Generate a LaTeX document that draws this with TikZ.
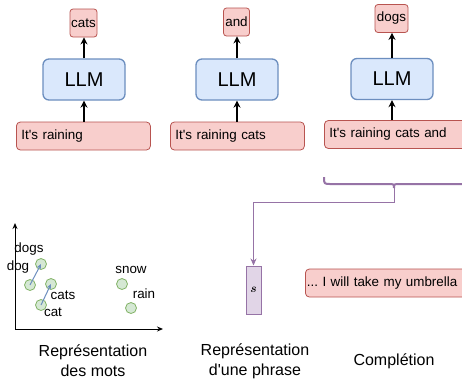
\documentclass[tikz,border=0pt]{standalone}
\usepackage{bm}
\usepackage{fontspec}
\setmainfont{Liberation Sans}
\usetikzlibrary{arrows.meta}
\frenchspacing
\definecolor{rfill}{HTML}{F8CECC}
\definecolor{rdraw}{HTML}{B85450}
\definecolor{bfill}{HTML}{DAE8FC}
\definecolor{bdraw}{HTML}{6C8EBF}
\definecolor{gfill}{HTML}{D5E8D4}
\definecolor{gdraw}{HTML}{82B366}
\definecolor{pfill}{HTML}{E1D5E7}
\definecolor{pdraw}{HTML}{9673A6}
\newcommand{\sq}{\textquotesingle}
\tikzset{
  txt/.style={font=\fontsize{13.4bp}{16bp}\selectfont},
  inbox/.style={txt, draw=rdraw, fill=rfill, rounded corners=4bp, line width=0.8bp,
    inner xsep=5bp, inner ysep=0pt, minimum height=28bp, text width=#1, align=left, anchor=west},
  outbox/.style={txt, draw=rdraw, fill=rfill, rounded corners=3bp, line width=0.8bp,
    inner sep=0pt, minimum height=28bp, minimum width=#1},
  llm/.style={draw=bdraw, fill=bfill, rounded corners=6bp, line width=1.3bp,
    minimum width=82bp, minimum height=41bp, inner sep=0pt, font=\fontsize{20bp}{24bp}\selectfont},
  flow/.style={-{Stealth[length=7bp,width=7bp]}, line width=1.8bp, black},
  ptcirc/.style={circle, draw=gdraw, fill=gfill, line width=0.8bp, minimum size=11bp, inner sep=0pt},
  ptlab/.style={txt, inner sep=0pt},
  vecarrow/.style={-{Stealth[length=5bp,width=4.5bp]}, line width=1bp, bdraw},
  axisarrow/.style={-{Stealth[length=6bp,width=5bp]}, line width=1bp, black},
  captext/.style={font=\fontsize{16bp}{20bp}\selectfont, align=center, inner sep=0pt},
  vecbox/.style={draw=pdraw, fill=pfill, line width=1bp, minimum width=15bp, minimum height=48bp,
    inner sep=0pt, font=\fontsize{13bp}{15bp}\selectfont},
}
\begin{document}
\begin{tikzpicture}[x=1bp,y=-1bp]
\useasboundingbox (0,0) rectangle (462,379);
\clip (0,0) rectangle (462,379);
\fill[white] (0,0) rectangle (462,379);

% column 1
\node[inbox=124bp] (in1) at (16,136) {It\sq s raining};
\node[llm] (llm1) at (84,79.5) {LLM};
\node[outbox=27bp] (out1) at (83.5,23) {cats};
\draw[flow] (in1.north -| llm1) -- (llm1.south);
\draw[flow] (llm1.north) -- (out1.south -| llm1);

% column 2
\node[inbox=124bp] (in2) at (170,136) {It\sq s raining cats};
\node[llm] (llm2) at (237,79.5) {LLM};
\node[outbox=26bp] (out2) at (236.5,22) {and};
\draw[flow] (in2.north -| llm2) -- (llm2.south);
\draw[flow] (llm2.north) -- (out2.south -| llm2);

% column 3
\node[inbox=136bp] (in3) at (324,134.5) {It\sq s raining cats and};
\node[llm] (llm3) at (392,79) {LLM};
\node[outbox=33bp] (out3) at (391.5,18.5) {dogs};
\draw[flow] (in3.north -| llm3) -- (llm3.south);
\draw[flow] (llm3.north) -- (out3.south -| llm3);

% brace
\coordinate (tip) at (394,188);
\draw[pdraw, line width=2bp] (324,177) .. controls (324,184) .. (331,184) -- (388,184)
  .. controls (394,184) .. (tip) .. controls (394,184) .. (400,184) -- (470,184);

% sentence representation
\node[vecbox] (svec) at (253.5,290) {$\bm{s}$};
\coordinate (bend) at (253.5,202);
\draw[pdraw, line width=1bp, -{Stealth[length=7bp,width=6bp]}] (tip) |- (bend) -- (svec.north);

% completion
\node[inbox=200bp, inner xsep=1.5bp] (comp) at (305,283) {\mbox{... I will take my umbrella}};

% word embeddings
\coordinate (origin) at (15,329);
\coordinate (ytop) at (15,223);
\coordinate (xend) at (163,329);
\draw[axisarrow] (origin) -- (ytop);
\draw[axisarrow] (origin) -- (xend);
\node[ptcirc] (pdogs) at (41,264) {};
\node[ptcirc] (pdog) at (30,285) {};
\node[ptcirc] (pcats) at (51,284) {};
\node[ptcirc] (pcat) at (41,305) {};
\node[ptcirc] (psnow) at (122,284) {};
\node[ptcirc] (prain) at (131,308) {};
\draw[vecarrow] (pdog.center) -- (pdogs.center);
\draw[vecarrow] (pcat.center) -- (pcats.center);
\node[ptlab] (ldogs) at (29,249) {dogs};
\node[ptlab] (ldog) at (18,267) {dog};
\node[ptlab] (lcats) at (63,295) {cats};
\node[ptlab] (lcat) at (53,312) {cat};
\node[ptlab] (lsnow) at (131,270) {snow};
\node[ptlab] (lrain) at (144,294) {rain};

% captions
\node[captext] (c1) at (93,361) {Représentation\\des mots};
\node[captext] (c2) at (255,361) {Représentation\\d\sq une phrase};
\node[captext] (c3) at (394,361) {Complétion};
\end{tikzpicture}
\end{document}
